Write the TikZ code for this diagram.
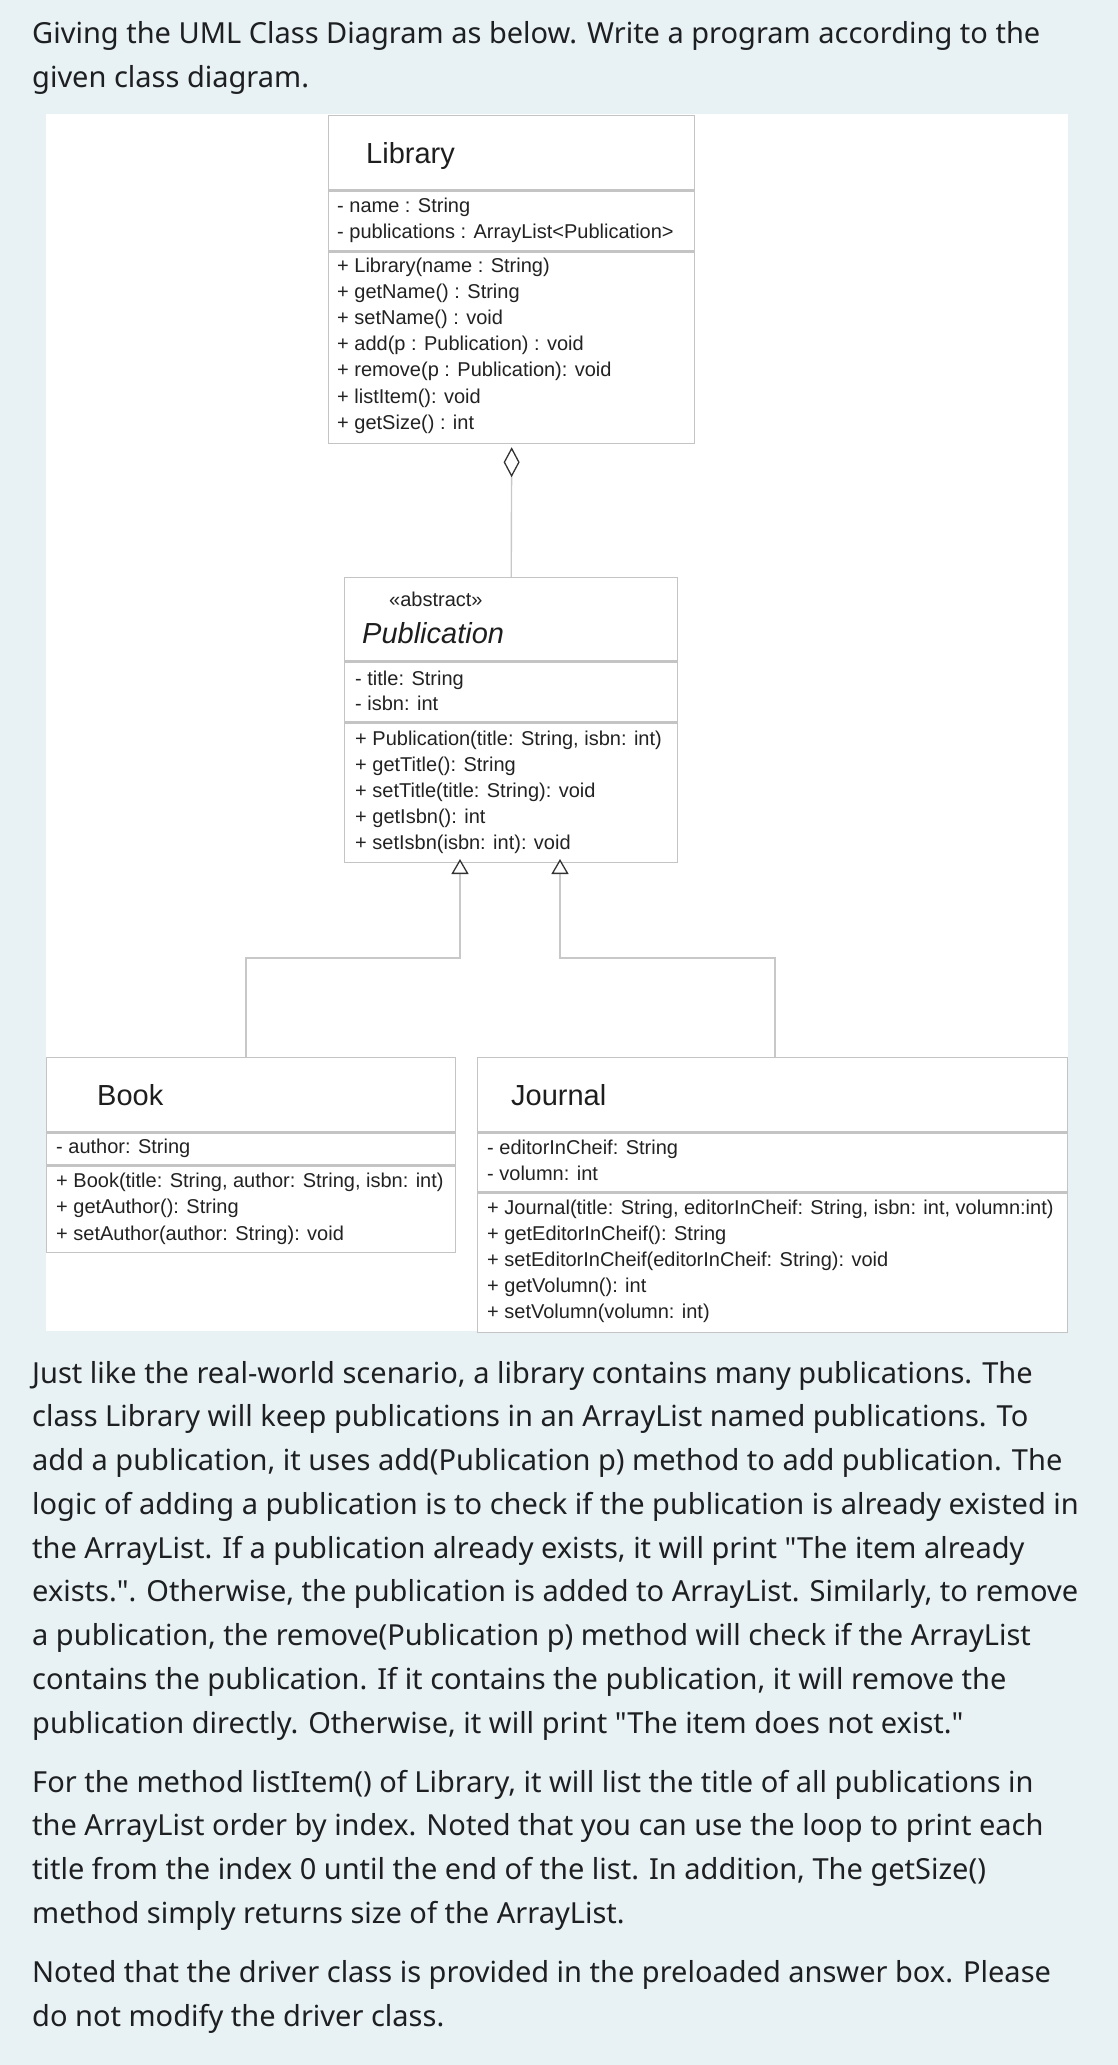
\documentclass[tikz,border=0pt]{standalone}
\usepackage{fontspec}
\setmainfont{Liberation Sans}
\newfontfamily\parafont{Noto Sans}
\usetikzlibrary{arrows.meta}
\definecolor{bg}{HTML}{E8F1F4}
\definecolor{boxgray}{HTML}{C4C4C4}
\definecolor{linegray}{HTML}{C8C8C8}
\definecolor{tipgray}{HTML}{333333}
\definecolor{memtext}{HTML}{222222}
\definecolor{ttltext}{HTML}{1E1E1E}
\definecolor{paratext}{HTML}{1D1F21}
\tikzset{
  comp/.style={draw=boxgray, line width=1.4pt, fill=white, anchor=north west, inner sep=0pt},
  mem/.style={anchor=base west, inner sep=0pt, text=memtext, font=\fontsize{20}{24}\selectfont},
  ttl/.style={anchor=base west, inner sep=0pt, text=ttltext, font=\fontsize{29}{34}\selectfont},
  stereo/.style={anchor=base west, inner sep=0pt, text=memtext, font=\fontsize{20}{24}\selectfont},
  para/.style={anchor=base west, inner sep=0pt, text=paratext, font=\parafont\fontsize{29}{34}\selectfont},
  link/.style={draw=linegray, line width=1.4pt},
  aggtip/.style={-{Diamond[color=tipgray, fill=white, length=30pt, width=16pt, line width=1.3pt]}},
  gentip/.style={-{Triangle[color=tipgray, fill=white, length=15pt, width=17pt, line width=1.3pt]}},
}
\begin{document}
\begin{tikzpicture}[x=1pt, y=-1pt]
\useasboundingbox (0,0) rectangle (1118,2065);
\fill[bg] (0,0) rectangle (1118,2065);
\fill[white] (46,114) rectangle (1068,1331);

% ---------- header ----------
\node[para] (h1) at (32,43) {Giving the UML Class Diagram as below. Write a program according to the};
\node[para] (h2) at (32,87) {given class diagram.};

% ---------- Library ----------
\node[comp, minimum width=366pt, minimum height=74pt] (libT) at (328,115) {};
\node[comp, minimum width=366pt, minimum height=60pt] (libA) at (libT.south west) {};
\node[comp, minimum width=366pt, minimum height=191pt] (libM) at (libA.south west) {};
\node[ttl] (libName) at (366,163) {Library};
\foreach \t [count=\i from 0] in {{- name : String},{- publications : ArrayList<Publication>}}
  \node[mem] (liba\i) at (337,212+26*\i) {\t};
\foreach \t [count=\i from 0] in {{+ Library(name : String)},{+ getName() : String},{+ setName() : void},{+ add(p : Publication) : void},{+ remove(p : Publication): void},{+ listItem(): void},{+ getSize() : int}}
  \node[mem] (libm\i) at (337,272+26.2*\i) {\t};

% ---------- Publication ----------
\node[comp, minimum width=333pt, minimum height=83pt] (pubT) at (344,577) {};
\node[comp, minimum width=333pt, minimum height=60pt] (pubA) at (pubT.south west) {};
\node[comp, minimum width=333pt, minimum height=139pt] (pubM) at (pubA.south west) {};
\node[stereo] (pubSt) at (389,606) {«abstract»};
\node[ttl, font=\fontsize{29}{34}\selectfont\itshape] (pubName) at (362,643) {Publication};
\foreach \t [count=\i from 0] in {{- title: String},{- isbn: int}}
  \node[mem] (puba\i) at (355,685+25.5*\i) {\t};
\foreach \t [count=\i from 0] in {{+ Publication(title: String, isbn: int)},{+ getTitle(): String},{+ setTitle(title: String): void},{+ getIsbn(): int},{+ setIsbn(isbn: int): void}}
  \node[mem] (pubm\i) at (355,745+26*\i) {\t};

% ---------- Book ----------
\node[comp, minimum width=409pt, minimum height=74pt] (bookT) at (46,1057) {};
\node[comp, minimum width=409pt, minimum height=32pt] (bookA) at (bookT.south west) {};
\node[comp, minimum width=409pt, minimum height=86pt] (bookM) at (bookA.south west) {};
\node[ttl] (bookName) at (97,1105) {Book};
\node[mem] (booka0) at (56,1153) {- author: String};
\foreach \t [count=\i from 0] in {{+ Book(title: String, author: String, isbn: int)},{+ getAuthor(): String},{+ setAuthor(author: String): void}}
  \node[mem] (bookm\i) at (56,1187+26.5*\i) {\t};

% ---------- Journal ----------
\node[comp, minimum width=590pt, minimum height=74pt] (jrnT) at (477,1057) {};
\node[comp, minimum width=590pt, minimum height=59pt] (jrnA) at (jrnT.south west) {};
\node[comp, minimum width=590pt, minimum height=139pt] (jrnM) at (jrnA.south west) {};
\node[ttl] (jrnName) at (511,1105) {Journal};
\foreach \t [count=\i from 0] in {{- editorInCheif: String},{- volumn: int}}
  \node[mem] (jrna\i) at (487,1154+26.5*\i) {\t};
\foreach \t [count=\i from 0] in {{+ Journal(title: String, editorInCheif: String, isbn: int, volumn:int)},{+ getEditorInCheif(): String},{+ setEditorInCheif(editorInCheif: String): void},{+ getVolumn(): int},{+ setVolumn(volumn: int)}}
  \node[mem] (jrnm\i) at (487,1214+26.2*\i) {\t};

% ---------- connectors ----------
\coordinate (pubL) at (460,859);
\coordinate (pubR) at (560,859);
\coordinate (bookJ) at (246,1057);
\coordinate (jrnJ) at (775,1057);
\draw[link, aggtip, shorten >=3pt] (pubT.north) -- (libM.south);
\draw[link, gentip] (bookJ) -- ++(0,-99) -| (pubL);
\draw[link, gentip] (jrnJ) -- ++(0,-99) -| (pubR);

% ---------- paragraphs ----------
\foreach \t [count=\i from 0] in {
  {Just like the real-world scenario, a library contains many publications. The},
  {class Library will keep publications in an ArrayList named publications. To},
  {add a publication, it uses add(Publication p) method to add publication. The},
  {logic of adding a publication is to check if the publication is already existed in},
  {the ArrayList. If a publication already exists, it will print "The item already},
  {exists.". Otherwise, the publication is added to ArrayList. Similarly, to remove},
  {a publication, the remove(Publication p) method will check if the ArrayList},
  {contains the publication. If it contains the publication, it will remove the},
  {publication directly. Otherwise, it will print "The item does not exist."}}
  \node[para] (pa\i) at (32,1383+43.75*\i) {\t};
\foreach \t [count=\i from 0] in {
  {For the method listItem() of Library, it will list the title of all publications in},
  {the ArrayList order by index. Noted that you can use the loop to print each},
  {title from the index 0 until the end of the list. In addition, The getSize()},
  {method simply returns size of the ArrayList.}}
  \node[para] (pb\i) at (32,1792+43.7*\i) {\t};
\foreach \t [count=\i from 0] in {
  {Noted that the driver class is provided in the preloaded answer box. Please},
  {do not modify the driver class.}}
  \node[para] (pc\i) at (32,1982+44*\i) {\t};
\end{tikzpicture}
\end{document}
